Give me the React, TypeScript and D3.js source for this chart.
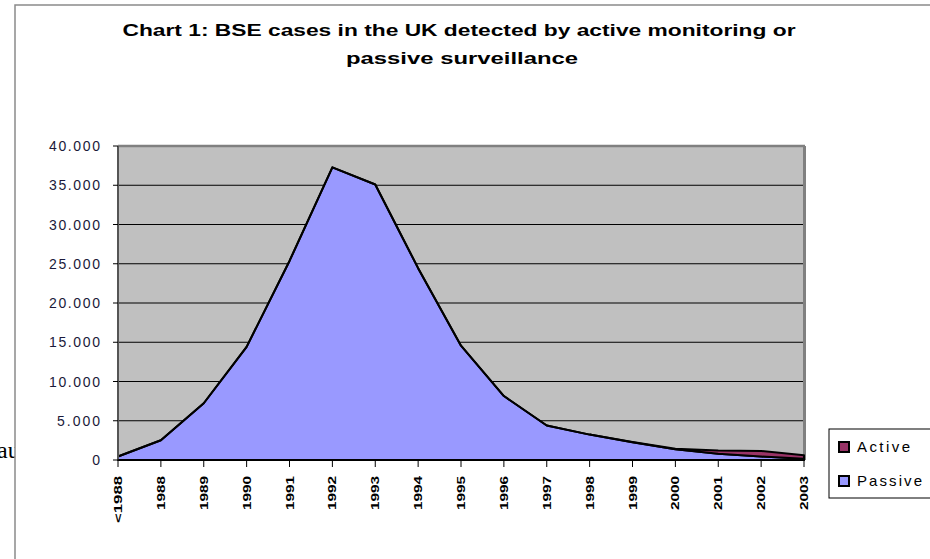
import * as d3 from 'd3'

const years = ['<1988', '1988', '1989', '1990', '1991', '1992', '1993', '1994', '1995', '1996', '1997', '1998', '1999', '2000', '2001', '2002', '2003']
const passive = [446, 2514, 7228, 14407, 25359, 37280, 35090, 24438, 14562, 8149, 4393, 3235, 2274, 1355, 781, 445, 173]
const active = [0, 0, 0, 0, 0, 0, 0, 0, 0, 0, 0, 0, 27, 88, 421, 699, 438]
const yTicks = [0, 5000, 10000, 15000, 20000, 25000, 30000, 35000, 40000]
const seriesNames = ['Passive', 'Active']
const seriesColors = ['#9999ff', '#993366']

export default function App() {
  const left = 118
  const right = 803
  const top = 146
  const bottom = 460

  const x = d3.scalePoint<string>().domain(years).range([left, right + 1])
  const y = d3.scaleLinear().domain([0, 40000]).range([bottom, top])

  const rows = years.map((yr, i) => ({ year: yr, Passive: passive[i], Active: active[i] }))
  const stacked = d3.stack<any>().keys(seriesNames)(rows)
  const area = d3.area<any>()
    .x(d => x(d.data.year) as number)
    .y0(d => y(d[0]))
    .y1(d => y(d[1]))

  const fmt = (v: number) => (v === 0 ? '0' : d3.format(',')(v).replace(',', '.'))
  const sans = "'Liberation Sans', Arial, sans-serif"

  return (
    <svg width={930} height={559} style={{ position: 'absolute', left: 0, top: 0, background: '#fff' }}>
      {/* document text peeking out behind the chart frame */}
      <text x={-3} y={458} fontFamily="'Liberation Serif', serif" fontSize={24} fill="#000">au</text>
      <rect x={15} y={5} width={1000} height={600} fill="#fff" stroke="#8a8a8a" strokeWidth={1.5} />

      <text x={459} y={36} textAnchor="middle" fontFamily={sans} fontWeight="bold"
        fontSize={17} textLength={673} lengthAdjust="spacingAndGlyphs">
        Chart 1: BSE cases in the UK detected by active monitoring or
      </text>
      <text x={462} y={64} textAnchor="middle" fontFamily={sans} fontWeight="bold"
        fontSize={17} textLength={232} lengthAdjust="spacingAndGlyphs">
        passive surveillance
      </text>

      {/* plot area */}
      <rect x={left} y={top} width={right - left} height={bottom - top} fill="#c0c0c0" />
      {yTicks.slice(1, -1).map(t => (
        <line key={t} x1={left} x2={right} y1={y(t)} y2={y(t)} stroke="#000" strokeWidth={1} />
      ))}
      <line x1={left} x2={right + 2} y1={top} y2={top} stroke="#808080" strokeWidth={2.5} />
      <line x1={right + 1.5} x2={right + 1.5} y1={top} y2={bottom} stroke="#808080" strokeWidth={3} />

      {stacked.map((s, i) => (
        <path key={s.key} d={area(s) as string} fill={seriesColors[i]} stroke="#000" strokeWidth={2} strokeLinejoin="round" />
      ))}

      {/* axes */}
      <line x1={left} x2={left} y1={top} y2={bottom} stroke="#555" strokeWidth={2} />
      <line x1={left} x2={right + 2} y1={bottom} y2={bottom} stroke="#000" strokeWidth={1.5} />
      {yTicks.map(t => (
        <g key={t}>
          <line x1={left - 5} x2={left} y1={y(t)} y2={y(t)} stroke="#000" />
          <text x={100} y={y(t) + 5} textAnchor="end" fontFamily={sans} fontSize={14}
            fill="#1a1a3a" textLength={t === 0 ? undefined : t < 10000 ? 43 : 51} lengthAdjust="spacing">
            {fmt(t)}
          </text>
        </g>
      ))}
      {years.map(yr => {
        const xp = x(yr) as number
        return (
          <g key={yr}>
            <line x1={xp} x2={xp} y1={bottom} y2={bottom + 7} stroke="#000" />
            <text transform={`translate(${xp},476) rotate(-90)`} textAnchor="end" dominantBaseline="central"
              fontFamily={sans} fontWeight="bold" fontSize={11}
              textLength={yr.length === 5 ? 47 : 34} lengthAdjust="spacingAndGlyphs">
              {yr}
            </text>
          </g>
        )
      })}

      {/* legend */}
      <rect x={829} y={429} width={120} height={69} fill="#fff" stroke="#000" strokeWidth={1} />
      {['Active', 'Passive'].map((name, i) => (
        <g key={name}>
          <rect x={839} y={442 + i * 34} width={10} height={10} fill={seriesColors[seriesNames.indexOf(name)]}
            stroke="#000" strokeWidth={2} />
          <text x={857} y={452 + i * 34} fontFamily={sans} fontSize={15}
            textLength={name === 'Active' ? 53 : 65} lengthAdjust="spacing">
            {name}
          </text>
        </g>
      ))}
    </svg>
  )
}
